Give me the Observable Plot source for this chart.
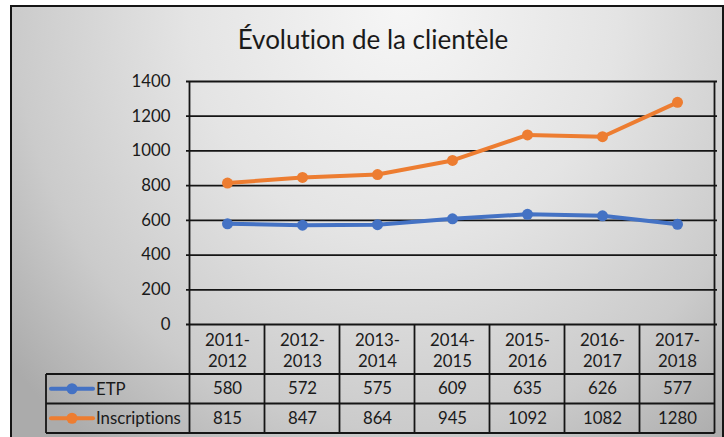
<!DOCTYPE html>
<html>
<head>
<meta charset="utf-8">
<script src="https://cdn.jsdelivr.net/npm/d3@7"></script>
<script src="https://cdn.jsdelivr.net/npm/@observablehq/plot@0.6"></script>
<style>
  html, body { margin: 0; padding: 0; background: #fff; }
  #wrap { position: relative; width: 724px; height: 437px; overflow: hidden; background: #fff; font-family: Lato, "Open Sans", sans-serif; font-variant-ligatures: none; }
  #frame { position: absolute; left: 10px; top: 5px; width: 710px; height: 445px;
    border-left: 2px solid #151515; border-top: 2px solid #151515; border-right: 2px solid #151515;
    background: radial-gradient(ellipse 72% 125% at 55% 0%, #f6f6f6 0%, #e4e4e4 42%, #cbcbcb 76%, #ababab 100%); }
  #title { position: absolute; left: 11px; width: 724px; top: 23px; text-align: center; font-size: 26px; color: #1a1a1a; }
  #chart { position: absolute; left: 0; top: 0; }
  #chart svg { font-variant-ligatures: none; }
</style>
</head>
<body>
<div id="wrap">
  <div id="frame"></div>
  <div id="title">Évolution de la clientèle</div>
  <div id="chart"></div>
</div>
<script>
const categories = ["2011-2012", "2012-2013", "2013-2014", "2014-2015", "2015-2016", "2016-2017", "2017-2018"];
const etp = [580, 572, 575, 609, 635, 626, 577];
const inscriptions = [815, 847, 864, 945, 1092, 1082, 1280];
const seriesNames = ["ETP", "Inscriptions"];
const seriesColors = ["#4472C4", "#ED7D31"];
const yTicks = [0, 200, 400, 600, 800, 1000, 1200, 1400];

(function () {
const seriesValues = [etp, inscriptions];
const data = seriesNames.flatMap((s, j) => categories.map((c, i) => ({cat: c, series: s, value: seriesValues[j][i]})));

const rowDy = [64.5, 94];
const ink = "#151515";
const fs = 16.8;

const plot = Plot.plot({
  width: 724,
  height: 437,
  marginLeft: 186,
  marginRight: 7,
  marginTop: 81,
  marginBottom: 113,
  style: {background: "transparent", fontFamily: "Lato, 'Open Sans', sans-serif", fontSize: fs + "px", color: "#1a1a1a", overflow: "visible"},
  x: {type: "point", domain: categories, padding: 0.5, axis: null},
  y: {domain: [0, 1400], axis: null},
  color: {domain: seriesNames, range: seriesColors},
  marks: [
    Plot.gridY(yTicks, {stroke: ink, strokeOpacity: 1, strokeWidth: 1.8}),
    Plot.axisY(yTicks, {tickSize: 0, tickPadding: 16, fontSize: fs, label: null, fill: "#1a1a1a", tickFormat: d => String(d)}),
    Plot.line(data, {x: "cat", y: "value", z: "series", stroke: "series", strokeWidth: 4, strokeLinejoin: "round"}),
    Plot.dot(data, {x: "cat", y: "value", fill: "series", r: 5.5}),
    Plot.text(categories, {x: d => d, text: d => d.replace("-", "-\n"), frameAnchor: "bottom", dy: 25, lineHeight: 1.25, lineAnchor: "middle", fontSize: fs, fill: "#1a1a1a"}),
    ...seriesNames.map((s, j) => Plot.text(data.filter(d => d.series === s), {x: "cat", text: d => String(d.value), frameAnchor: "bottom", dy: rowDy[j], lineAnchor: "middle", fontSize: fs, fill: "#1a1a1a"}))
  ]
});
document.getElementById("chart").appendChild(plot);

// Data-table grid and legend keys, positioned from the plot's scales
const xs = plot.scale("x"), ys = plot.scale("y");
const step = xs.apply(categories[1]) - xs.apply(categories[0]);
const xLeft = xs.apply(categories[0]) - step / 2;
const xRight = xs.apply(categories[categories.length - 1]) + step / 2;
const yTop = ys.apply(1400), yZero = ys.apply(0);
const rowH = [50, 29.5, 29.5];
const rowY = [yZero, yZero + rowH[0], yZero + rowH[0] + rowH[1], yZero + rowH[0] + rowH[1] + rowH[2]];
const tableLeft = 46;
const svg = d3.select(plot);
const g = svg.append("g").attr("stroke", ink).attr("stroke-width", 1.8).attr("fill", "none");
g.append("line").attr("x1", xLeft).attr("x2", xLeft).attr("y1", yTop).attr("y2", rowY[3]);
g.append("line").attr("x1", xRight).attr("x2", xRight).attr("y1", yTop).attr("y2", rowY[3]);
for (let k = 1; k < categories.length; k++) {
  const x = xLeft + k * step;
  g.append("line").attr("x1", x).attr("x2", x).attr("y1", yZero).attr("y2", rowY[3]);
}
for (let r = 1; r <= 3; r++) {
  g.append("line").attr("x1", tableLeft).attr("x2", xRight).attr("y1", rowY[r]).attr("y2", rowY[r]);
}
g.append("line").attr("x1", tableLeft).attr("x2", tableLeft).attr("y1", rowY[1]).attr("y2", rowY[3]);

seriesNames.forEach((s, j) => {
  const cy = (rowY[j + 1] + rowY[j + 2]) / 2;
  const lg = svg.append("g");
  lg.append("line").attr("x1", tableLeft + 5).attr("x2", tableLeft + 47).attr("y1", cy).attr("y2", cy)
    .attr("stroke", seriesColors[j]).attr("stroke-width", 4).attr("stroke-linecap", "round");
  lg.append("circle").attr("cx", tableLeft + 26).attr("cy", cy).attr("r", 5.5).attr("fill", seriesColors[j]);
  lg.append("text").attr("x", tableLeft + 50).attr("y", cy).attr("dy", "0.35em")
    .attr("text-anchor", "start").attr("font-size", fs).attr("fill", "#1a1a1a").text(s);
});
})();
</script>
</body>
</html>
